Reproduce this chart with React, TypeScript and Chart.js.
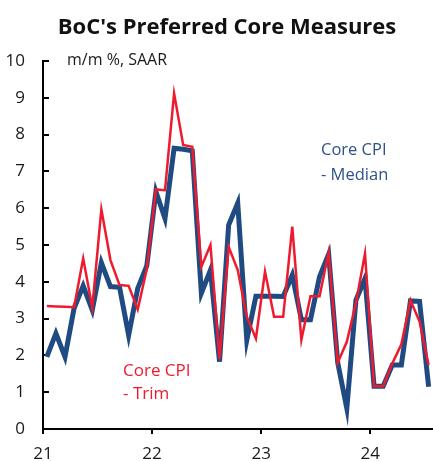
import React, { useEffect, useRef } from 'react';
import { Chart, registerables } from 'chart.js';

Chart.register(...registerables);

// Monthly observations, Jan 2021 .. Jul 2024
const startYear = 2021;
const monthCount = 43;
const monthLabels: string[] = Array.from({ length: monthCount }, (_, i) => {
  const y = startYear + Math.floor(i / 12);
  const m = (i % 12) + 1;
  return `${y}-${String(m).padStart(2, '0')}`;
});

const medianValues = [
  1.96, 2.6, 1.96, 3.28, 3.89, 3.23, 4.52, 3.87, 3.85, 2.55, 3.82, 4.44,
  6.45, 5.72, 7.63, 7.6, 7.56, 3.69, 4.32, 1.83, 5.54, 6.14, 2.42, 3.61,
  3.61, 3.61, 3.6, 4.18, 2.97, 2.97, 4.14, 4.75, 1.8, 0.56, 3.5, 4.09,
  1.16, 1.16, 1.74, 1.74, 3.48, 3.47, 1.15,
];

const trimValues = [
  3.34, 3.33, 3.32, 3.31, 4.64, 3.3, 5.97, 4.59, 3.91, 3.89, 3.25, 4.35,
  6.51, 6.49, 9.12, 7.72, 7.67, 4.41, 5.0, 1.9, 4.95, 4.32, 3.05, 2.46,
  4.28, 3.05, 3.05, 5.5, 2.42, 3.61, 3.61, 4.8, 1.8, 2.37, 3.42, 4.77,
  1.16, 1.16, 1.78, 2.3, 3.5, 2.92, 1.74,
];

const yearTickValues = [0, 12, 24, 36];
const yearTickLabels = ['21', '22', '23', '24'];
const yMin = 0;
const yMax = 10;
const xMax = 42.9;
const obsOffset = 0.42; // observation position within its month

const BLUE = '#1F4B82';
const BLUE_TEXT = '#2E5189';
const RED = '#EE1B2F';
const FONT = '"Open Sans", "Noto Sans", sans-serif';

export default function App() {
  const ref = useRef<HTMLCanvasElement>(null);

  useEffect(() => {
    if (!ref.current) return;

    const textPlugin = {
      id: 'extraTexts',
      beforeDatasetsDraw(chart: any) {
        const { ctx, chartArea } = chart;
        const ys = chart.scales.y;
        ctx.save();
        ctx.strokeStyle = '#000';
        ctx.lineWidth = 2;
        ys.ticks.forEach((t: any) => {
          const py = Math.round(ys.getPixelForValue(t.value));
          ctx.beginPath();
          ctx.moveTo(chartArea.left, py);
          ctx.lineTo(chartArea.left + 6, py);
          ctx.stroke();
        });
        ctx.restore();
      },
      afterDraw(chart: any) {
        const { ctx } = chart;
        ctx.save();
        ctx.textBaseline = 'alphabetic';
        ctx.fillStyle = '#111';
        ctx.textAlign = 'center';
        ctx.font = `bold 22px ${FONT}`;
        ctx.fillText("BoC's Preferred Core Measures", 227, 34);

        ctx.textAlign = 'left';
        ctx.font = `16px ${FONT}`;
        ctx.fillStyle = '#1a1a1a';
        ctx.fillText('m/m %, SAAR', 67, 64.5);

        ctx.font = `16.5px ${FONT}`;
        ctx.fillStyle = BLUE_TEXT;
        ctx.fillText('Core CPI', 321, 155);
        ctx.fillText('- Median', 321, 180);

        ctx.font = `17px ${FONT}`;
        ctx.fillStyle = RED;
        ctx.fillText('Core CPI', 123, 376);
        ctx.fillText('- Trim', 123, 399);
        ctx.restore();
      },
    };

    const chart = new Chart(ref.current, {
      type: 'line',
      data: {
        labels: monthLabels,
        datasets: [
          {
            label: 'Core CPI - Trim',
            data: trimValues.map((v, i) => ({ x: i + obsOffset, y: v })),
            borderColor: RED,
            borderWidth: 2.5,
            pointRadius: 0,
            tension: 0,
            fill: false,
            clip: false,
          },
          {
            label: 'Core CPI - Median',
            data: medianValues.map((v, i) => ({ x: i + obsOffset, y: v })),
            borderColor: BLUE,
            borderWidth: 5,
            pointRadius: 0,
            tension: 0,
            fill: false,
            clip: false,
          },
        ],
      },
      options: {
        animation: false,
        responsive: false,
        devicePixelRatio: 1,
        events: [],
        layout: { padding: { top: 61, left: 0, right: 0, bottom: 0 } },
        plugins: {
          legend: { display: false },
          tooltip: { enabled: false },
          title: { display: false },
        },
        scales: {
          x: {
            type: 'linear',
            min: 0,
            max: xMax,
            afterBuildTicks: (s: any) => {
              s.ticks = yearTickValues.map((v) => ({ value: v }));
            },
            afterFit: (s: any) => {
              s.height = 32;
            },
            ticks: {
              autoSkip: false,
              maxRotation: 0,
              padding: 10,
              color: '#1a1a1a',
              font: { family: FONT, size: 17 },
              callback: (v: any) => yearTickLabels[yearTickValues.indexOf(Number(v))] ?? '',
            },
            grid: {
              display: true,
              drawOnChartArea: false,
              drawTicks: true,
              tickLength: 5,
              color: '#000',
              lineWidth: 2,
            },
            border: { display: true, color: '#000', width: 2 },
          },
          y: {
            type: 'linear',
            min: yMin,
            max: yMax,
            afterFit: (s: any) => {
              s.width = 43;
            },
            ticks: {
              stepSize: 1,
              padding: 18,
              color: '#1a1a1a',
              font: { family: FONT, size: 17 },
            },
            grid: {
              display: true,
              drawOnChartArea: false,
              drawTicks: false,
            },
            border: { display: true, color: '#000', width: 2 },
          },
        },
      },
      plugins: [textPlugin],
    } as any);

    return () => chart.destroy();
  }, []);

  return (
    <div style={{ position: 'absolute', left: 0, top: 0, width: 433, height: 461 }}>
      <canvas ref={ref} width={433} height={461} style={{ display: 'block' }} />
    </div>
  );
}
